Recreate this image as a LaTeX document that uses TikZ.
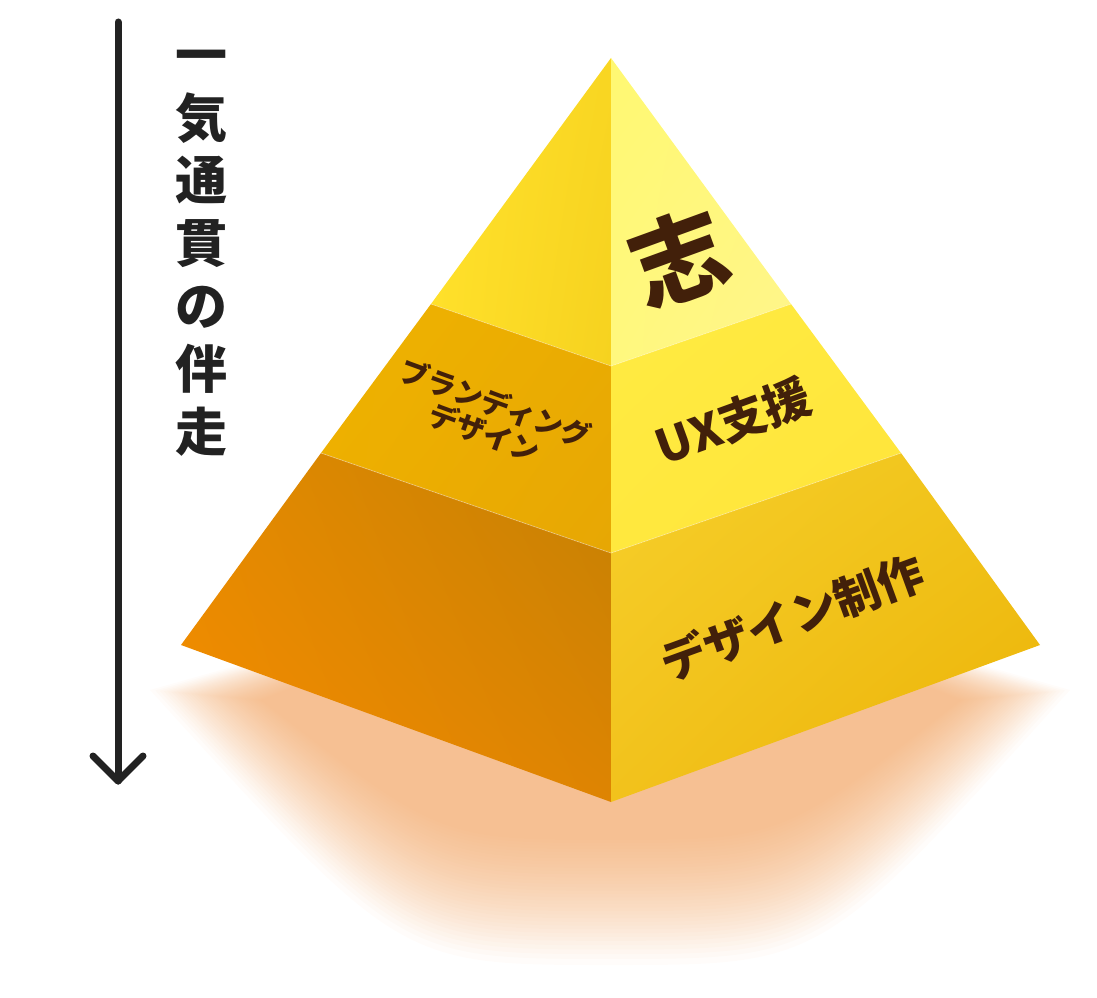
\documentclass[tikz,border=0pt]{standalone}
\usepackage{fontspec}
\usetikzlibrary{shadings}
\newfontfamily\jp{Noto Sans CJK JP}
\definecolor{txtc}{HTML}{42200A}
\definecolor{inkc}{HTML}{222222}
\definecolor{shadowc}{HTML}{F2A96B}
\definecolor{tlA}{HTML}{FFE22C}\definecolor{tlB}{HTML}{FFE02A}\definecolor{tlC}{HTML}{F9D622}\definecolor{tlD}{HTML}{F6D21F}
\definecolor{trA}{HTML}{FFF872}\definecolor{trB}{HTML}{FFF87E}\definecolor{trC}{HTML}{FFF77A}\definecolor{trD}{HTML}{FFF58C}
\definecolor{mlA}{HTML}{EFB300}\definecolor{mlB}{HTML}{EDAE00}\definecolor{mlC}{HTML}{EAAC02}\definecolor{mlD}{HTML}{E7A704}
\definecolor{mrA}{HTML}{FFEB42}\definecolor{mrB}{HTML}{FFE83E}\definecolor{mrC}{HTML}{FFE83E}\definecolor{mrD}{HTML}{FFE43A}
\definecolor{blA}{HTML}{E48A00}\definecolor{blB}{HTML}{F68C00}\definecolor{blC}{HTML}{C48104}\definecolor{blD}{HTML}{DE8402}
\definecolor{brA}{HTML}{F6CF2A}\definecolor{brB}{HTML}{F2C21C}\definecolor{brC}{HTML}{F0C31A}\definecolor{brD}{HTML}{ECB206}
\begin{document}
\begin{tikzpicture}[x=1pt,y=-1pt,
  lbl/.style={text=txtc, font=\jp\bfseries, inner sep=0pt},
  vtxt/.style={text=inkc, font=\jp\bfseries\fontsize{52}{62.8}\selectfont, align=center, inner sep=0pt},
  arrowline/.style={draw=inkc, line width=7pt, line cap=round, line join=round},
  seam/.style={draw=white, draw opacity=0.35, line width=0.8pt}]
\useasboundingbox (0,0) rectangle (1097,998);
% key points
\coordinate (A) at (611,58);
\coordinate (L1) at (431,304); \coordinate (C1) at (611,366); \coordinate (R1) at (791,304);
\coordinate (L2) at (321,453); \coordinate (C2) at (611,553); \coordinate (R2) at (901,453);
\coordinate (L3) at (181,645); \coordinate (C3) at (611,802); \coordinate (R3) at (1040,645);
% soft shadow: nested translucent rounded V shapes
\foreach \k in {0,...,35} {
  \pgfmathsetmacro\t{(\k/35)^0.85}
  \pgfmathsetmacro\lx{150+110*\t}
  \pgfmathsetmacro\rx{1070-108*\t}
  \pgfmathsetmacro\ly{690+10*\t}
  \pgfmathsetmacro\by{965-125*\t}
  \pgfmathsetmacro\cl{400+40*\t}
  \pgfmathsetmacro\cr{822-40*\t}
  \fill[shadowc, opacity=0.034] (\lx,\ly) .. controls (\cl,\by) .. (611,\by) .. controls (\cr,\by) .. (\rx,\ly) -- (611,560) -- cycle;
}
% faces
\shade[upper left=tlA, lower left=tlB, upper right=tlC, lower right=tlD] (A) -- (L1) -- (C1) -- cycle;
\shade[upper left=trA, lower left=trB, upper right=trC, lower right=trD] (A) -- (C1) -- (R1) -- cycle;
\shade[upper left=mlA, lower left=mlB, upper right=mlC, lower right=mlD] (L1) -- (L2) -- (C2) -- (C1) -- cycle;
\shade[upper left=mrA, lower left=mrB, upper right=mrC, lower right=mrD] (C1) -- (C2) -- (R2) -- (R1) -- cycle;
\shade[upper left=blA, lower left=blB, upper right=blC, lower right=blD] (L2) -- (L3) -- (C3) -- (C2) -- cycle;
\shade[upper left=brA, lower left=brB, upper right=brC, lower right=brD] (C2) -- (C3) -- (R3) -- (R2) -- cycle;
% seams
\draw[seam] (L1) -- (C1) -- (R1);
\draw[seam] (L2) -- (C2) -- (R2);
% labels
\node[lbl, rotate=20, font=\jp\bfseries\fontsize{96}{96}\selectfont] (kokorozashi) at (679,258) {志};
\node[lbl, rotate=20, font=\jp\bfseries\fontsize{47}{47}\selectfont] (ux) at (733,421) {UX支援};
\node[lbl, rotate=20, font=\jp\bfseries\fontsize{46}{46}\selectfont] (design) at (792,617) {デザイン制作};
\node[lbl, rotate=-20, align=center, font=\jp\bfseries\fontsize{29}{32}\selectfont] (brand) at (490,418) {ブランディング\\デザイン};
% vertical caption
\node[vtxt] (caption) at (201,253) {一\\気\\通\\貫\\の\\伴\\走};
% arrow
\coordinate (arrTop) at (118,22);
\coordinate (arrTip) at (118,781);
\coordinate (arrL) at (93,756);
\coordinate (arrR) at (143,756);
\draw[arrowline] (arrTop) -- (arrTip);
\draw[arrowline] (arrL) -- (arrTip) -- (arrR);
\end{tikzpicture}
\end{document}
